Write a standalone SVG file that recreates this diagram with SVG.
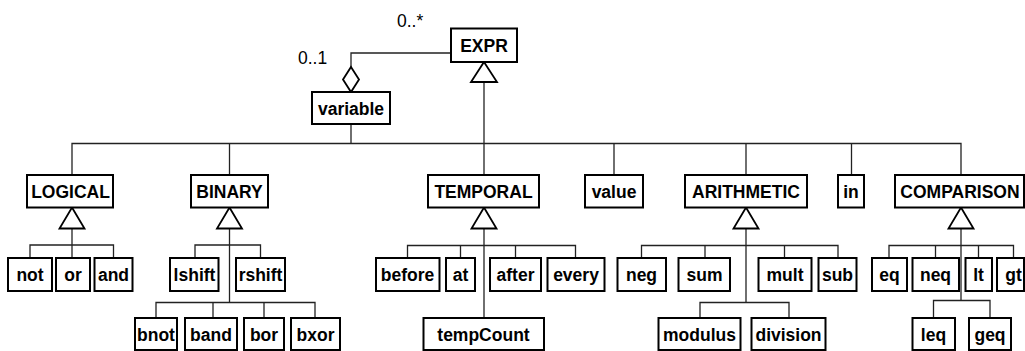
<svg xmlns="http://www.w3.org/2000/svg" width="1025" height="351" viewBox="0 0 1025 351">
  <style>
    .box { fill: #ffffff; stroke: #000000; stroke-width: 2; }
    .lbl { font-family: "Liberation Sans", Arial, sans-serif; font-size: 17.5px; font-weight: bold; text-anchor: middle; fill: #000000; }
    .mult { font-family: "Liberation Sans", Arial, sans-serif; font-size: 17.5px; fill: #000000; }
    .wire { fill: none; stroke: #222222; stroke-width: 1.3; }
    .gen { fill: #ffffff; stroke: #000000; stroke-width: 1.8; }
  </style>

  <!-- connectors -->
  <g id="connectors">
    <!-- aggregation EXPR -> variable -->
    <path class="wire" d="M451,53 H351 V67"/>
    <path class="gen" d="M351,67 L359,79.5 L351,92 L343,79.5 Z"/>

    <!-- EXPR generalisation tree -->
    <path class="wire" d="M484,82 V175"/>
    <path class="wire" d="M72,175 V143.5 H961 V175"/>
    <path class="wire" d="M229.5,143.5 V175"/>
    <path class="wire" d="M351,124 V143.5"/>
    <path class="wire" d="M614,143.5 V175"/>
    <path class="wire" d="M746,143.5 V175"/>
    <path class="wire" d="M851.5,143.5 V175"/>
    <path class="gen" d="M484,62 L497,82 L471,82 Z"/>

    <!-- LOGICAL children -->
    <path class="wire" d="M72,228.5 V258"/>
    <path class="wire" d="M30,258 V245 H113.5 V258"/>
    <path class="gen" d="M72,207.5 L84.5,228.5 L59.5,228.5 Z"/>

    <!-- BINARY children -->
    <path class="wire" d="M229.5,228.5 V302.5"/>
    <path class="wire" d="M195,258 V245 H260.5 V258"/>
    <path class="wire" d="M156,318 V302.5 H315 V318"/>
    <path class="wire" d="M213,302.5 V318"/>
    <path class="wire" d="M264,302.5 V318"/>
    <path class="gen" d="M229.5,207.5 L242,228.5 L217,228.5 Z"/>

    <!-- TEMPORAL children -->
    <path class="wire" d="M484,228.5 V318"/>
    <path class="wire" d="M407.5,258 V245.5 H575.5 V258"/>
    <path class="wire" d="M460.5,245.5 V258"/>
    <path class="wire" d="M515.5,245.5 V258"/>
    <path class="gen" d="M484,207.5 L496.5,228.5 L471.5,228.5 Z"/>

    <!-- ARITHMETIC children -->
    <path class="wire" d="M746,228.5 V302.5"/>
    <path class="wire" d="M641.5,258 V245.5 H838 V258"/>
    <path class="wire" d="M705,245.5 V258"/>
    <path class="wire" d="M784.5,245.5 V258"/>
    <path class="wire" d="M700,318 V302.5 H789 V318"/>
    <path class="gen" d="M746,207.5 L758.5,228.5 L733.5,228.5 Z"/>

    <!-- COMPARISON children -->
    <path class="wire" d="M961,228.5 V300.5"/>
    <path class="wire" d="M889,258 V245.5 H1013.5 V258"/>
    <path class="wire" d="M935.5,245.5 V258"/>
    <path class="wire" d="M978.5,245.5 V258"/>
    <path class="wire" d="M933.5,318 V300.5 H990 V318"/>
    <path class="gen" d="M961,207.5 L973.5,228.5 L948.5,228.5 Z"/>
  </g>

  <!-- multiplicities -->
  <text class="mult" x="397" y="26.5">0..*</text>
  <text class="mult" x="298" y="63.5">0..1</text>

  <!-- top -->
  <g id="EXPR"><rect class="box" x="451" y="28.5" width="66" height="33.5"/><text class="lbl" x="484" y="51.5">EXPR</text></g>
  <g id="variable"><rect class="box" x="312" y="92" width="78" height="32"/><text class="lbl" x="351" y="114.5">variable</text></g>

  <!-- first level -->
  <g id="LOGICAL"><rect class="box" x="27" y="175" width="86" height="32.5"/><text class="lbl" x="70.5" y="197.5">LOGICAL</text></g>
  <g id="BINARY"><rect class="box" x="191" y="175" width="77" height="32.5"/><text class="lbl" x="229.5" y="197.5">BINARY</text></g>
  <g id="TEMPORAL"><rect class="box" x="428" y="175" width="111" height="32.5"/><text class="lbl" x="483.5" y="197.5">TEMPORAL</text></g>
  <g id="value"><rect class="box" x="585" y="175" width="58" height="32.5"/><text class="lbl" x="614" y="197.5">value</text></g>
  <g id="ARITHMETIC"><rect class="box" x="685" y="175" width="122" height="32.5"/><text class="lbl" x="746" y="197.5">ARITHMETIC</text></g>
  <g id="in"><rect class="box" x="838" y="175" width="26" height="32.5"/><text class="lbl" x="851" y="197.5">in</text></g>
  <g id="COMPARISON"><rect class="box" x="895" y="175" width="129" height="32.5"/><text class="lbl" x="960" y="197.5">COMPARISON</text></g>

  <!-- LOGICAL subclasses -->
  <g id="not"><rect class="box" x="8" y="258" width="44" height="33"/><text class="lbl" x="30" y="281">not</text></g>
  <g id="or"><rect class="box" x="56" y="258" width="34" height="33"/><text class="lbl" x="73" y="281">or</text></g>
  <g id="and"><rect class="box" x="94.5" y="258" width="38" height="33"/><text class="lbl" x="113.5" y="281">and</text></g>

  <!-- BINARY subclasses -->
  <g id="lshift"><rect class="box" x="170" y="258" width="48.5" height="33"/><text class="lbl" x="194.5" y="281">lshift</text></g>
  <g id="rshift"><rect class="box" x="236" y="258" width="49" height="33"/><text class="lbl" x="260.5" y="281">rshift</text></g>
  <g id="bnot"><rect class="box" x="135" y="318" width="42" height="32"/><text class="lbl" x="156" y="340.5">bnot</text></g>
  <g id="band"><rect class="box" x="185" y="318" width="52" height="32"/><text class="lbl" x="211" y="340.5">band</text></g>
  <g id="bor"><rect class="box" x="244" y="318" width="40" height="32"/><text class="lbl" x="264" y="340.5">bor</text></g>
  <g id="bxor"><rect class="box" x="291" y="318" width="49" height="32"/><text class="lbl" x="315.5" y="340.5">bxor</text></g>

  <!-- TEMPORAL subclasses -->
  <g id="before"><rect class="box" x="376" y="258" width="63.5" height="33"/><text class="lbl" x="407.5" y="281">before</text></g>
  <g id="at"><rect class="box" x="446" y="258" width="29" height="33"/><text class="lbl" x="460.5" y="281">at</text></g>
  <g id="after"><rect class="box" x="490" y="258" width="51" height="33"/><text class="lbl" x="515.5" y="281">after</text></g>
  <g id="every"><rect class="box" x="547.5" y="258" width="57" height="33"/><text class="lbl" x="576" y="281">every</text></g>
  <g id="tempCount"><rect class="box" x="423.5" y="318" width="120.5" height="32"/><text class="lbl" x="483.5" y="340.5">tempCount</text></g>

  <!-- ARITHMETIC subclasses -->
  <g id="neg"><rect class="box" x="617.5" y="258" width="48.5" height="33"/><text class="lbl" x="641.5" y="281">neg</text></g>
  <g id="sum"><rect class="box" x="678.5" y="258" width="51.5" height="33"/><text class="lbl" x="704.5" y="281">sum</text></g>
  <g id="mult"><rect class="box" x="758.5" y="258" width="53" height="33"/><text class="lbl" x="785" y="281">mult</text></g>
  <g id="sub"><rect class="box" x="818.5" y="258" width="38" height="33"/><text class="lbl" x="837.5" y="281">sub</text></g>
  <g id="modulus"><rect class="box" x="658.5" y="318" width="82" height="32"/><text class="lbl" x="699.5" y="340.5">modulus</text></g>
  <g id="division"><rect class="box" x="751.5" y="318" width="74" height="32"/><text class="lbl" x="788.5" y="340.5">division</text></g>

  <!-- COMPARISON subclasses -->
  <g id="eq"><rect class="box" x="872" y="258" width="35" height="33"/><text class="lbl" x="889.5" y="281">eq</text></g>
  <g id="neq"><rect class="box" x="912.5" y="258" width="46.5" height="33"/><text class="lbl" x="935.5" y="281">neq</text></g>
  <g id="lt"><rect class="box" x="965.5" y="258" width="26.5" height="33"/><text class="lbl" x="978.5" y="281">lt</text></g>
  <g id="gt"><rect class="box" x="997" y="258" width="27" height="33"/><text class="lbl" x="1013.5" y="281">gt</text></g>
  <g id="leq"><rect class="box" x="912.5" y="318" width="42.5" height="32"/><text class="lbl" x="933.5" y="340.5">leq</text></g>
  <g id="geq"><rect class="box" x="969" y="318" width="42" height="32"/><text class="lbl" x="990" y="340.5">geq</text></g>
</svg>
